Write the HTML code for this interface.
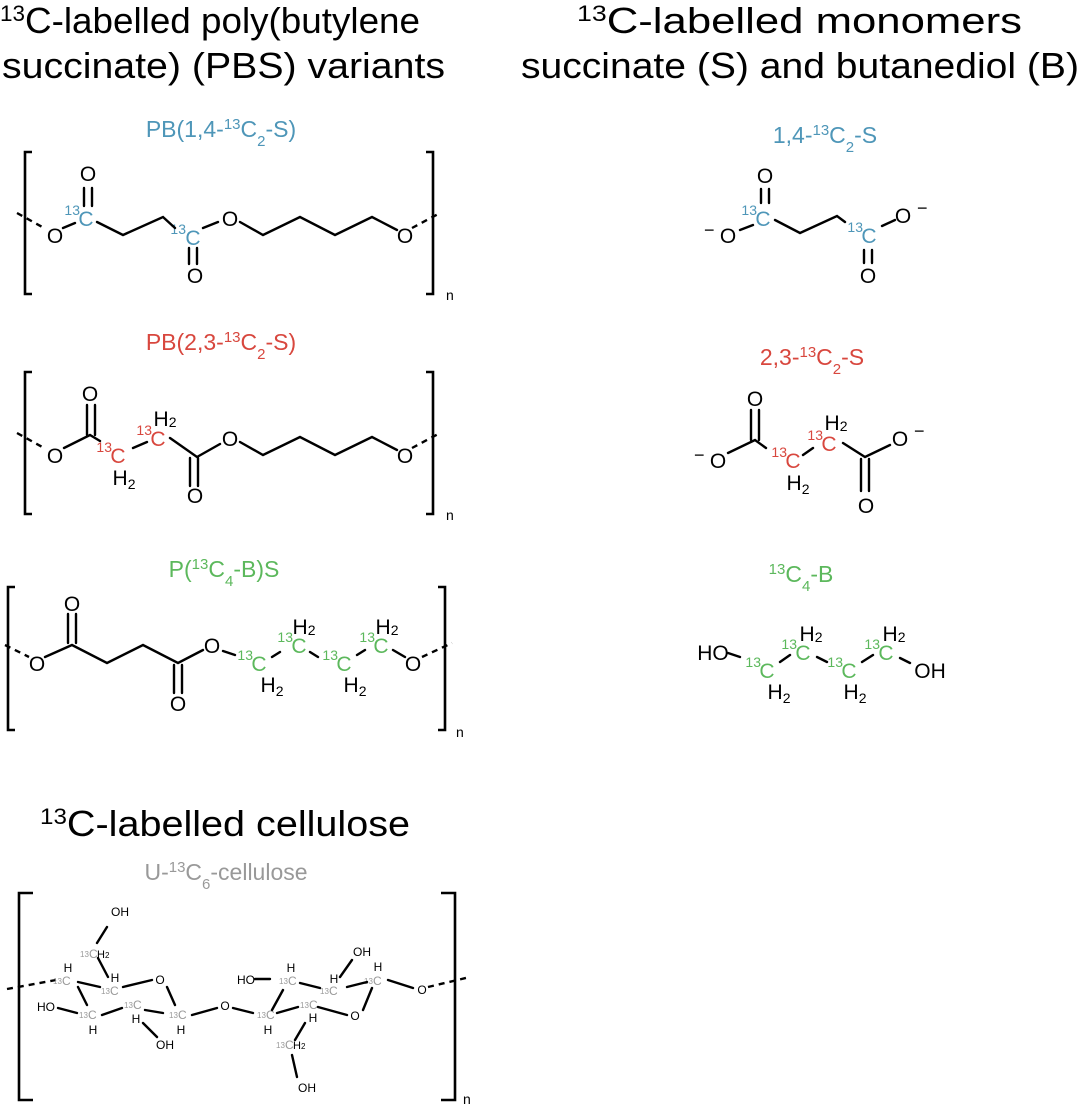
<!DOCTYPE html>
<html><head><meta charset="utf-8"><style>
html,body{margin:0;padding:0;background:#fff;}
svg{display:block;font-family:"Liberation Sans",Arial,sans-serif;}
.b{stroke:#000;stroke-width:2.4;fill:none;stroke-linecap:round}
.d{stroke:#000;stroke-width:2.4;fill:none;stroke-dasharray:6 5}
.br{stroke:#000;stroke-width:2.6;fill:none}
.t{font-size:21px;fill:#000;text-anchor:middle}
.s{font-size:14px;text-anchor:end}
.sm{font-size:12px;fill:#000;text-anchor:middle}
.g{fill:#999}
.bl{fill:#4e96b8}.rd{fill:#d8473e}.gr{fill:#5cb85c}
.st{font-size:23px;text-anchor:middle}
</style></head><body>
<svg width="1080" height="1107" viewBox="0 0 1080 1107">
<!-- Titles -->
<text x="0" y="33" font-size="36" textLength="420" lengthAdjust="spacingAndGlyphs"><tspan font-size="22" baseline-shift="super">13</tspan>C-labelled poly(butylene</text>
<text x="2" y="78" font-size="36" textLength="443" lengthAdjust="spacingAndGlyphs">succinate) (PBS) variants</text>
<text x="577" y="33" font-size="36" textLength="445" lengthAdjust="spacingAndGlyphs"><tspan font-size="22" baseline-shift="super">13</tspan>C-labelled monomers</text>
<text x="521" y="78" font-size="36" textLength="558" lengthAdjust="spacingAndGlyphs">succinate (S) and butanediol (B)</text>
<text x="40" y="836" font-size="36" textLength="370" lengthAdjust="spacingAndGlyphs"><tspan font-size="22" baseline-shift="super">13</tspan>C-labelled cellulose</text>

<text x="221" y="137" class="st bl">PB(1,4-<tspan font-size="15" baseline-shift="super">13</tspan>C<tspan font-size="15" baseline-shift="sub">2</tspan>-S)</text>
<text x="221" y="350" class="st rd">PB(2,3-<tspan font-size="15" baseline-shift="super">13</tspan>C<tspan font-size="15" baseline-shift="sub">2</tspan>-S)</text>
<text x="224" y="577" class="st gr">P(<tspan font-size="15" baseline-shift="super">13</tspan>C<tspan font-size="15" baseline-shift="sub">4</tspan>-B)S</text>
<text x="226" y="880" class="st g">U-<tspan font-size="15" baseline-shift="super">13</tspan>C<tspan font-size="15" baseline-shift="sub">6</tspan>-cellulose</text>
<text x="825" y="143" class="st bl">1,4-<tspan font-size="15" baseline-shift="super">13</tspan>C<tspan font-size="15" baseline-shift="sub">2</tspan>-S</text>
<text x="812" y="365" class="st rd">2,3-<tspan font-size="15" baseline-shift="super">13</tspan>C<tspan font-size="15" baseline-shift="sub">2</tspan>-S</text>
<text x="801" y="582" class="st gr"><tspan font-size="15" baseline-shift="super">13</tspan>C<tspan font-size="15" baseline-shift="sub">4</tspan>-B</text>

<!-- Row 1 -->
<path class="br" d="M32,152 H25 V294 H32 M426,152 H433 V294 H426"/>
<text x="446" y="300" font-size="14">n</text>
<line class="d" x1="17" y1="213" x2="44" y2="228"/>
<line class="d" x1="412" y1="228" x2="440" y2="213"/>
<text class="t" x="55" y="243">O</text>
<text class="t bl" x="86" y="226">C</text><text class="s bl" x="80" y="215">13</text>
<text class="t" x="88" y="181">O</text>
<text class="t bl" x="193" y="245">C</text><text class="s bl" x="186" y="234">13</text>
<text class="t" x="195" y="283">O</text>
<text class="t" x="230" y="226">O</text>
<text class="t" x="405" y="243">O</text>
<path class="b" d="M63,228 L75,223 M97,222 L123,235 L163,217 L175,228 M203,228 L218,222 M240,222 L263,235 L300,217 L335,235 L372,217 L397,230 M84,188 V206 M92,188 V206 M189,248 V264 M197,248 V264"/>

<!-- Row 2 -->
<path class="br" d="M32,372 H25 V514 H32 M426,372 H433 V514 H426"/>
<text x="446" y="520" font-size="14">n</text>
<line class="d" x1="17" y1="433" x2="44" y2="448"/>
<line class="d" x1="412" y1="448" x2="440" y2="433"/>
<text class="t" x="55" y="463">O</text>
<text class="t" x="90" y="401">O</text>
<text class="t rd" x="118" y="463">C</text><text class="s rd" x="112" y="452">13</text>
<text class="t" x="124" y="485">H<tspan font-size="14" dy="4">2</tspan></text>
<text class="t rd" x="158" y="446">C</text><text class="s rd" x="152" y="435">13</text>
<text class="t" x="165" y="426">H<tspan font-size="14" dy="1">2</tspan></text>
<text class="t" x="195" y="503">O</text>
<text class="t" x="230" y="446">O</text>
<text class="t" x="405" y="463">O</text>
<path class="b" d="M64,448 L90,435 L100,441 M133,448 L147,442 M170,438 L197,457 L220,444 M240,442 L263,455 L300,437 L335,455 L372,437 L397,450 M87,405 V435 M95,405 V435 M190,458 V486 M198,458 V486"/>

<!-- Row 3 -->
<path class="br" d="M15,587 H8 V730 H15 M438,587 H445 V730 H438"/>
<text x="456" y="737" font-size="14">n</text>
<line class="d" x1="5" y1="645" x2="29" y2="657"/>
<line class="d" x1="422" y1="657" x2="452" y2="643"/>
<text class="t" x="37" y="671">O</text>
<text class="t" x="72" y="611">O</text>
<text class="t" x="178" y="711">O</text>
<text class="t" x="212" y="653">O</text>
<text class="t gr" x="259" y="671">C</text><text class="s gr" x="253" y="660">13</text>
<text class="t gr" x="299" y="653">C</text><text class="s gr" x="293" y="642">13</text>
<text class="t gr" x="344" y="671">C</text><text class="s gr" x="338" y="660">13</text>
<text class="t gr" x="381" y="653">C</text><text class="s gr" x="375" y="642">13</text>
<text class="t" x="272" y="692">H<tspan font-size="14" dy="4">2</tspan></text>
<text class="t" x="355" y="692">H<tspan font-size="14" dy="4">2</tspan></text>
<text class="t" x="304" y="634">H<tspan font-size="14" dy="1">2</tspan></text>
<text class="t" x="387" y="634">H<tspan font-size="14" dy="1">2</tspan></text>
<text class="t" x="413" y="671">O</text>
<path class="b" d="M45,657 L72,645 L107,663 L143,645 L178,663 L203,650 M223,651 L235,655 M272,657 L280,652 M310,652 L318,657 M357,655 L365,650 M393,650 L405,657 M68,614 V643 M76,614 V643 M174,665 V693 M182,665 V693"/>

<!-- Monomer 1 -->
<text class="t" x="728" y="243">O</text><text x="704" y="236" font-size="18">−</text>
<text class="t bl" x="763" y="226">C</text><text class="s bl" x="757" y="215">13</text>
<text class="t" x="765" y="183">O</text>
<text class="t bl" x="869" y="243">C</text><text class="s bl" x="863" y="232">13</text>
<text class="t" x="868" y="283">O</text>
<text class="t" x="903" y="223">O</text><text x="917" y="214" font-size="18">−</text>
<path class="b" d="M740,230 L753,225 M775,220 L800,233 L837,216 L845,222 M882,226 L895,220 M761,189 V203 M769,189 V203 M864,250 V263 M872,250 V263"/>

<!-- Monomer 2 -->
<text class="t" x="718" y="468">O</text><text x="694" y="461" font-size="18">−</text>
<text class="t" x="755" y="406">O</text>
<text class="t rd" x="793" y="468">C</text><text class="s rd" x="787" y="457">13</text>
<text class="t" x="798" y="490">H<tspan font-size="14" dy="4">2</tspan></text>
<text class="t rd" x="829" y="451">C</text><text class="s rd" x="823" y="440">13</text>
<text class="t" x="836" y="430">H<tspan font-size="14" dy="1">2</tspan></text>
<text class="t" x="866" y="513">O</text>
<text class="t" x="900" y="446">O</text><text x="914" y="437" font-size="18">−</text>
<path class="b" d="M728,453 L755,440 L766,448 M803,455 L813,448 M843,443 L865,457 L890,445 M751,410 V440 M759,410 V440 M861,459 V491 M869,459 V491"/>

<!-- Monomer 3 -->
<text class="t" x="713" y="660">HO</text>
<text class="t gr" x="767" y="678">C</text><text class="s gr" x="761" y="667">13</text>
<text class="t" x="779" y="699">H<tspan font-size="14" dy="4">2</tspan></text>
<text class="t gr" x="803" y="660">C</text><text class="s gr" x="797" y="649">13</text>
<text class="t" x="811" y="641">H<tspan font-size="14" dy="1">2</tspan></text>
<text class="t gr" x="849" y="678">C</text><text class="s gr" x="843" y="667">13</text>
<text class="t" x="855" y="699">H<tspan font-size="14" dy="4">2</tspan></text>
<text class="t gr" x="886" y="660">C</text><text class="s gr" x="880" y="649">13</text>
<text class="t" x="894" y="641">H<tspan font-size="14" dy="1">2</tspan></text>
<text class="t" x="930" y="678">OH</text>
<path class="b" d="M728,653 L740,657 M780,662 L790,655 M817,657 L827,662 M862,662 L873,655 M900,658 L910,663"/>

<!-- Cellulose -->
<path class="br" d="M33,893 H19 V1100 H33 M441,893 H455 V1100 H441"/>
<text x="463" y="1104" font-size="14">n</text>
<line class="d" x1="7" y1="989" x2="56" y2="980"/>
<line class="d" x1="428" y1="987" x2="470" y2="977"/>
<g font-size="12">
<text class="sm" x="120" y="916">OH</text>
<text x="80" y="957" font-size="8" class="g">13</text><text x="89" y="958" font-size="12" class="g">C</text><text x="97" y="958" font-size="11">H<tspan font-size="8">2</tspan></text>
<text class="sm" x="68" y="972">H</text>
<text x="53" y="984" font-size="8" class="g">13</text><text x="62" y="985" font-size="12" class="g">C</text>
<text class="sm" x="115" y="982">H</text>
<text x="101" y="994" font-size="8" class="g">13</text><text x="110" y="995" font-size="12" class="g">C</text>
<text class="sm" x="160" y="984">O</text>
<text class="sm" x="46" y="1011">HO</text>
<text x="79" y="1018" font-size="8" class="g">13</text><text x="88" y="1019" font-size="12" class="g">C</text>
<text class="sm" x="93" y="1034">H</text>
<text x="124" y="1008" font-size="8" class="g">13</text><text x="133" y="1009" font-size="12" class="g">C</text>
<text class="sm" x="136" y="1023">H</text>
<text class="sm" x="165" y="1049">OH</text>
<text x="169" y="1018" font-size="8" class="g">13</text><text x="178" y="1019" font-size="12" class="g">C</text>
<text class="sm" x="181" y="1034">H</text>
<text class="sm" x="225" y="1010">O</text>
<text x="257" y="1018" font-size="8" class="g">13</text><text x="266" y="1019" font-size="12" class="g">C</text>
<text class="sm" x="268" y="1034">H</text>
<text x="300" y="1008" font-size="8" class="g">13</text><text x="309" y="1009" font-size="12" class="g">C</text>
<text class="sm" x="313" y="1022">H</text>
<text class="sm" x="355" y="1020">O</text>
<text x="276" y="1048" font-size="8" class="g">13</text><text x="285" y="1049" font-size="12" class="g">C</text><text x="293" y="1049" font-size="11">H<tspan font-size="8">2</tspan></text>
<text class="sm" x="307" y="1092">OH</text>
<text class="sm" x="246" y="984">HO</text>
<text class="sm" x="291" y="972">H</text>
<text x="279" y="984" font-size="8" class="g">13</text><text x="288" y="985" font-size="12" class="g">C</text>
<text class="sm" x="334" y="983">H</text>
<text x="320" y="994" font-size="8" class="g">13</text><text x="329" y="995" font-size="12" class="g">C</text>
<text class="sm" x="362" y="956">OH</text>
<text class="sm" x="378" y="971">H</text>
<text x="364" y="984" font-size="8" class="g">13</text><text x="373" y="985" font-size="12" class="g">C</text>
<text class="sm" x="422" y="994">O</text>
</g>
<path class="b" d="M97,943 L107,927 M98,958 L108,977 M78,982 L100,987 M123,987 L152,980 M167,987 L175,1005 M78,987 L87,1005 M58,1008 L77,1013 M102,1015 L122,1008 M145,1010 L163,1013 M143,1023 L157,1037 M192,1015 L217,1008 M233,1008 L253,1013 M272,1010 L283,990 M277,1013 L298,1007 M318,1007 L347,1015 M305,1023 L295,1040 M292,1055 L297,1077 M255,979 L270,979 M300,983 L320,988 M340,977 L352,960 M347,987 L367,982 M372,988 L363,1010 M388,980 L413,988"/>
</svg>
</body></html>
